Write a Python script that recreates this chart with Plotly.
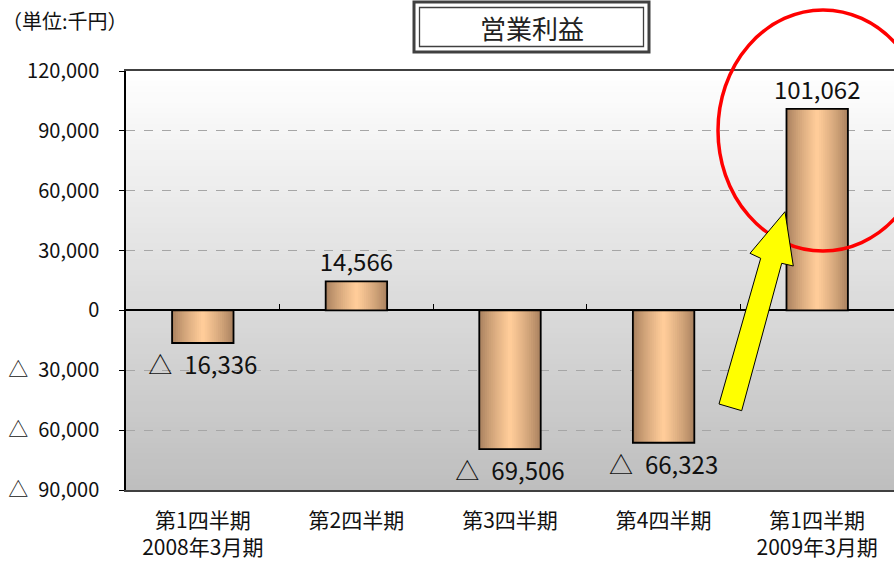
import plotly.graph_objects as go

# ---- data ----
categories = ["第1四半期<br>2008年3月期", "第2四半期", "第3四半期", "第4四半期", "第1四半期<br>2009年3月期"]
values = [-16336, 14566, -69506, -66323, 101062]
ytick_vals = [120000, 90000, 60000, 30000, 0, -30000, -60000, -90000]
ytick_text = ["120,000", "90,000", "60,000", "30,000", "0",
              "△\u200230,000", "△\u200260,000", "△\u200290,000"]
title_text = "営業利益"
unit_text = "（単位:千円）"

# ---- geometry helpers (pixel -> paper) ----
W, H = 894, 561
L, R, T, B = 126, 0, 71, 71
PW, PH = W - L - R, H - T - B


def fx(px):
    return (px - L) / PW


def fy(py):
    return (H - B - py) / PH


FONT = "Noto Sans CJK JP, Liberation Sans, sans-serif"

labels = [f"{v:,}" if v >= 0 else f"△\u2002{abs(v):,}" for v in values]

fig = go.Figure()

# gradient bars simulated by stacked overlay layers
edge = (168, 128, 94)
center = (255, 204, 153)
N = 16
BW = 0.40
for k in range(N):
    t = k / (N - 1)
    t = t ** 0.8
    c = tuple(int(round(edge[i] + (center[i] - edge[i]) * t)) for i in range(3))
    fig.add_trace(go.Bar(
        x=categories, y=values, width=BW * (1 - k / N),
        marker=dict(color=f"rgb{c}", line=dict(width=0)),
        hoverinfo="skip", showlegend=False,
    ))

# outline + labels
fig.add_trace(go.Bar(
    x=categories, y=values, width=BW,
    marker=dict(color="rgba(0,0,0,0)", line=dict(color="black", width=1.8)),
    text=labels, textposition="outside", cliponaxis=False, constraintext="none",
    textfont=dict(family=FONT, size=24, color="#111"),
    hoverinfo="skip", showlegend=False,
))

# helper trace for boundary ticks on zero line
fig.add_trace(go.Scatter(x=[0], y=[0], xaxis="x2", mode="markers",
                         marker=dict(opacity=0), hoverinfo="skip", showlegend=False))

shapes = []
# background vertical gradient
NB = 80
top_c, bot_c = (255, 255, 255), (190, 190, 190)
for i in range(NB):
    t = (i + 0.5) / NB
    c = tuple(int(round(bot_c[j] + (top_c[j] - bot_c[j]) * t)) for j in range(3))
    shapes.append(dict(type="rect", xref="x domain", yref="y domain",
                       x0=0, x1=1, y0=i / NB, y1=(i + 1) / NB + 0.002,
                       fillcolor=f"rgb{c}", line=dict(width=0), layer="below"))

# title box (double border)
shapes.append(dict(type="rect", xref="paper", yref="paper",
                   x0=fx(414), x1=fx(649), y0=fy(52), y1=fy(2),
                   line=dict(color="#404040", width=3), fillcolor="white"))
shapes.append(dict(type="rect", xref="paper", yref="paper",
                   x0=fx(419.5), x1=fx(643.5), y0=fy(46.5), y1=fy(7.5),
                   line=dict(color="#404040", width=1.3)))

# red ellipse
shapes.append(dict(type="circle", xref="paper", yref="paper",
                   x0=fx(718), x1=fx(928), y0=fy(251), y1=fy(10),
                   line=dict(color="#ff0000", width=3.5)))

# yellow arrow
pts = [(785, 211.7), (793.3, 266), (781.7, 263.3), (741.7, 410.7),
       (719, 404), (760.7, 258.3), (750, 253.3)]
path = "M " + " L ".join(f"{fx(x):.5f},{fy(y):.5f}" for x, y in pts) + " Z"
shapes.append(dict(type="path", xref="paper", yref="paper", path=path,
                   fillcolor="#ffff00", line=dict(color="black", width=1)))

annotations = [
    dict(text=title_text, xref="paper", yref="paper", x=fx(531.5), y=fy(28),
         showarrow=False, xanchor="center", yanchor="middle",
         font=dict(family=FONT, size=26, color="#222")),
    dict(text=unit_text, xref="paper", yref="paper", x=fx(0), y=fy(20),
         showarrow=False, xanchor="left", yanchor="middle",
         font=dict(family=FONT, size=20, color="#111")),
]

fig.update_layout(
    width=W, height=H,
    margin=dict(l=L, r=R, t=T, b=B, pad=0, autoexpand=False),
    paper_bgcolor="white", plot_bgcolor="white",
    barmode="overlay", bargap=0.6,
    font=dict(family=FONT, color="#111"),
    shapes=shapes, annotations=annotations,
    xaxis=dict(type="category", showline=True, mirror=True, linecolor="#404040", linewidth=1.5,
               ticks="", showgrid=False, tickfont=dict(family=FONT, size=21, color="#111"),
               ticklabelstandoff=11, fixedrange=True, automargin=False),
    xaxis2=dict(overlaying="x", anchor="free", position=90 / 210, range=[-0.5, 4.5],
                tickvals=[0.5, 1.5, 2.5, 3.5], ticks="inside", ticklen=6, tickcolor="black",
                tickwidth=1, showticklabels=False, showgrid=False, zeroline=False,
                showline=False, fixedrange=True, automargin=False),
    yaxis=dict(range=[-90000, 120000], tickvals=ytick_vals, ticktext=ytick_text,
               showline=True, linecolor="black", linewidth=1.5,
               ticks="outside", ticklen=5, tickcolor="black",
               showgrid=True, gridcolor="#a6a6a6", griddash="dash", gridwidth=1,
               zeroline=True, zerolinecolor="black", zerolinewidth=1.5,
               tickfont=dict(family=FONT, size=20, color="#111"),
               ticklabelstandoff=16, fixedrange=True, automargin=False),
)

fig.write_html("out.html", config={"displayModeBar": False},
               post_script="document.body.style.margin='0';")
